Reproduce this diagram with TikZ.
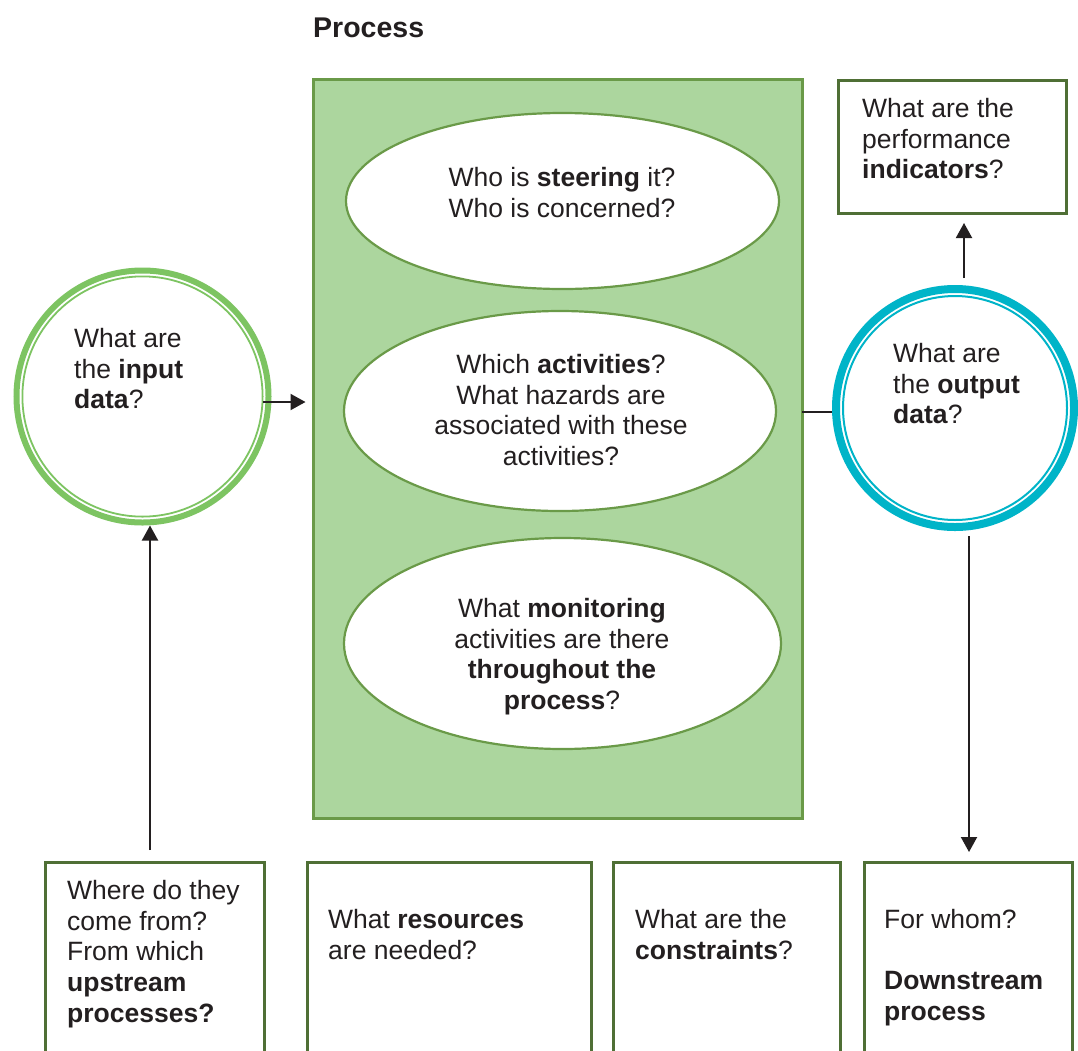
\documentclass[tikz,border=0pt]{standalone}
\usepackage{fontspec}
\setmainfont{Liberation Sans}
\usetikzlibrary{shapes.geometric,arrows.meta}
\definecolor{procfill}{RGB}{172,214,158}
\definecolor{procline}{RGB}{106,154,72}
\definecolor{ingreen}{RGB}{125,196,98}
\definecolor{outcyan}{RGB}{0,180,200}
\definecolor{boxline}{RGB}{79,111,53}
\definecolor{txt}{RGB}{35,31,32}
\begin{document}
\begin{tikzpicture}[x=1pt,y=-1pt,
  every node/.style={inner sep=0pt, text=txt, font=\fontsize{26.5}{30.7}\selectfont},
  lefttext/.style={align=left, anchor=north west},
  midtext/.style={align=center, anchor=north},
  oval/.style={ellipse, draw=procline, line width=2.2pt, fill=white},
  qbox/.style={rectangle, draw=boxline, line width=3pt, fill=white, anchor=north west},
  conn/.style={draw=txt, line width=2pt},
  arr/.style={conn, -{Triangle[length=15pt,width=16pt]}},
]
\useasboundingbox (0,0) rectangle (1078,1050);
\clip (0,0) rectangle (1078,1050);
\fill[white] (0,0) rectangle (1078,1050);

% title
\node[anchor=base west, font=\fontsize{28.5}{34}\selectfont\bfseries] (title) at (313,37) {Process};

% process block
\node[rectangle, draw=procline, fill=procfill, line width=3pt, minimum width=489pt, minimum height=739pt, anchor=north west] (proc) at (311.5,78) {};
\node[oval, minimum width=433pt, minimum height=176pt] (e1) at (562.5,201) {};
\node[oval, minimum width=432pt, minimum height=200pt] (e2) at (560,411) {};
\node[oval, minimum width=437pt, minimum height=211pt] (e3) at (562.5,643.5) {};

% circles
\node[circle, draw=ingreen, line width=6pt, minimum size=252pt, fill=white] (inc) at (142.5,396.5) {};
\draw[ingreen, line width=1.8pt] (inc.center) circle[radius=120.1pt];
\node[circle, draw=outcyan, line width=8pt, minimum size=238pt, fill=white] (outc) at (955,408) {};
\draw[outcyan, line width=2pt] (outc.center) circle[radius=112pt];

% boxes
\node[qbox, minimum width=228pt, minimum height=133pt] (kpi) at (837,79) {};
\node[qbox, minimum width=219pt, minimum height=260pt] (up) at (43.5,861) {};
\node[qbox, minimum width=284pt, minimum height=260pt] (res) at (306,861) {};
\node[qbox, minimum width=227pt, minimum height=260pt] (con) at (612,861) {};
\node[qbox, minimum width=208pt, minimum height=260pt] (down) at (863,861) {};

% connectors
\coordinate (a1s) at (263,402);
\draw[arr, shorten >=6pt] (a1s) -- (a1s -| proc.west);
\coordinate (l1) at (802,412);
\draw[conn] (l1) -- (l1 -| outc.west);
\coordinate (a2s) at (964,278);
\draw[arr, shorten >=8pt] (a2s) -- (a2s |- kpi.south);
\coordinate (a3s) at (150,850);
\draw[arr] (a3s) -- (a3s |- inc.south);
\coordinate (a4s) at (969,536);
\draw[arr, shorten >=9pt] (a4s) -- (a4s |- down.north);

% texts
\node[lefttext] (tin) at (74,328) {What are\\the \textbf{input}\\\textbf{data}?};
\node[lefttext] (tout) at (893,343) {What are\\the \textbf{output}\\\textbf{data}?};
\node[lefttext] (tkpi) at (862,98) {What are the\\performance\\\textbf{indicators}?};
\node[midtext] (t1) at (562,167) {Who is \textbf{steering} it?\\Who is concerned?};
\node[midtext] (t2) at (561,354) {Which \textbf{activities}?\\What hazards are\\associated with these\\activities?};
\node[midtext] (t3) at (562,598) {What \textbf{monitoring}\\activities are there\\\textbf{throughout the}\\\textbf{process}?};
\node[lefttext] (tup) at (67,880) {Where do they\\come from?\\From which\\\textbf{upstream}\\\textbf{processes?}};
\node[lefttext] (tres) at (328,909) {What \textbf{resources}\\are needed?};
\node[lefttext] (tcon) at (635,909) {What are the\\\textbf{constraints}?};
\node[lefttext] (tdown) at (884,909) {For whom?\\[30.7pt]\textbf{Downstream}\\\textbf{process}};
\end{tikzpicture}
\end{document}
